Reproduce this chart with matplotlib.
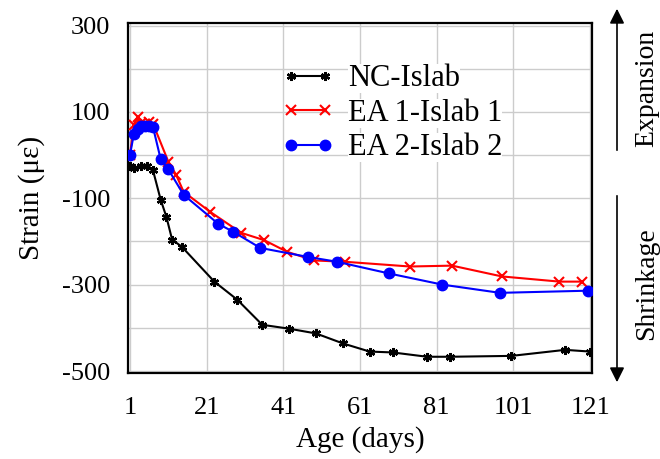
import matplotlib
matplotlib.use("Agg")
import matplotlib.pyplot as plt

plt.rcParams['font.family'] = ['Liberation Serif', 'DejaVu Serif']
plt.rcParams['axes.unicode_minus'] = False

# strain readings (micro-strain) vs. age in days
nc_days = [1, 2, 4, 5.5, 7, 9, 10.5, 12, 14.5, 23, 29, 35.5, 42.5, 49.5, 56.5,
           63.5, 69.5, 78.5, 84.5, 100.5, 114.5, 121]
nc_strain = [-25, -30, -25, -25, -35, -103, -143, -196, -212, -293, -335, -393,
             -402, -413, -436, -455, -457, -467, -467, -465, -451, -455]

ea1_days = [1, 2, 3, 4, 5, 6, 7, 11, 13, 15, 22, 30, 36, 42, 49, 57, 74, 85,
            98, 113, 119]
ea1_strain = [0, 70, 88, 75, 72, 76, 73, -15, -45, -85, -132, -180, -197, -224,
              -244, -247, -258, -256, -281, -293, -293]

ea2_days = [1, 2, 3, 4, 5, 6, 7, 9, 11, 15, 24, 28, 35, 47.5, 55, 68.5, 82.5,
            97.5, 120.5]
ea2_strain = [0, 48, 60, 67, 68, 68, 65, -9, -33, -92, -159, -178, -215, -236,
              -247, -274, -300, -319, -314]

x_ticks = [1, 21, 41, 61, 81, 101, 121]
y_ticks = [300, 100, -100, -300, -500]

fig = plt.figure(figsize=(6.6, 4.59), dpi=100)
ax = fig.add_axes([0.194, 0.187, 0.703, 0.763])

ax.plot(nc_days, nc_strain, color='black', lw=1.5, marker=(6, 2, 0),
        ms=6.5, mew=1.7, label='NC-Islab', zorder=3)
ax.plot(ea1_days, ea1_strain, color='red', lw=1.5, marker='x',
        ms=7.5, mew=1.5, label='EA 1-Islab 1', zorder=3)
ax.plot(ea2_days, ea2_strain, color='blue', lw=1.5, marker='o',
        ms=7.5, label='EA 2-Islab 2', zorder=4)

ax.set_xlim(0.5, 121.5)
ax.set_ylim(-505, 306)
ax.set_xticks(x_ticks)
ax.set_yticks(y_ticks)
ax.set_xticks(range(1, 122, 20), minor=True)
ax.set_yticks(range(-500, 301, 100), minor=True)
ax.grid(True, which='both', color='#cccccc', lw=1.0)
ax.set_axisbelow(True)
ax.tick_params(which='both', length=0, labelsize=19)
ax.tick_params(axis='x', pad=17)
ax.tick_params(axis='y', pad=13)
for sp in ax.spines.values():
    sp.set_linewidth(1.6)

ax.set_xlabel('Age (days)', fontsize=21, labelpad=5)
ax.set_ylabel('Strain (με)', fontsize=21, labelpad=12)

# legend: no frame, white patch behind each label only
leg = ax.legend(loc='upper left', bbox_to_anchor=(270 / 660, 1 - 52 / 459),
                bbox_transform=fig.transFigure, fontsize=22, numpoints=2,
                handlelength=1.7, handletextpad=0.45, labelspacing=0.18,
                frameon=False, borderaxespad=0)
for t in leg.get_texts():
    t.set_bbox(dict(facecolor='white', edgecolor='none', pad=0))

# direction arrows to the right of the plot
ax.annotate('', xy=(617, 453), xycoords='figure pixels',
            xytext=(617, 306), textcoords='figure pixels',
            arrowprops=dict(arrowstyle='-|>', color='black', lw=1.2,
                            mutation_scale=22))
ax.annotate('', xy=(617, 74), xycoords='figure pixels',
            xytext=(617, 266), textcoords='figure pixels',
            arrowprops=dict(arrowstyle='-|>', color='black', lw=1.2,
                            mutation_scale=22))
fig.text(647 / 660, 1 - 88 / 459, 'Expansion', rotation=90, fontsize=20,
         ha='center', va='center')
fig.text(647 / 660, 1 - 284 / 459, 'Shrinkage', rotation=90, fontsize=20,
         ha='center', va='center')

fig.savefig('out.png', dpi=100)
